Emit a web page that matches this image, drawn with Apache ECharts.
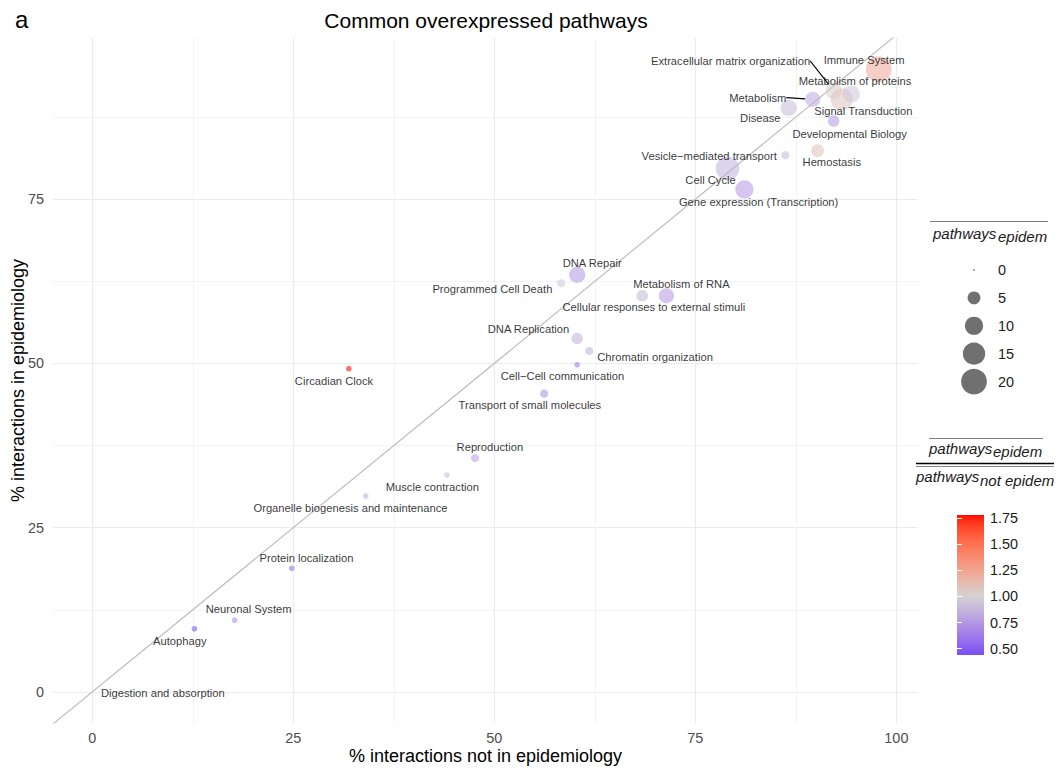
<!DOCTYPE html>
<html>
<head>
<meta charset="utf-8">
<title>Common overexpressed pathways</title>
<script src="https://cdn.jsdelivr.net/npm/echarts@6/dist/echarts.min.js"></script>
<style>
  html, body { margin: 0; padding: 0; background: #ffffff; }
  #chart { width: 1060px; height: 771px; }
</style>
</head>
<body>
<div id="chart"></div>
<script>
// ---- data -------------------------------------------------------------
const pathways = [
  "Immune System", "Extracellular matrix organization", "Metabolism of proteins",
  "Signal Transduction", "Metabolism", "Disease", "Developmental Biology",
  "Vesicle\u2212mediated transport", "Hemostasis", "Cell Cycle",
  "Gene expression (Transcription)", "DNA Repair", "Programmed Cell Death",
  "Metabolism of RNA", "Cellular responses to external stimuli", "DNA Replication",
  "Chromatin organization", "Cell\u2212Cell communication", "Transport of small molecules",
  "Circadian Clock", "Reproduction", "Muscle contraction",
  "Organelle biogenesis and maintenance", "Protein localization", "Neuronal System",
  "Autophagy", "Digestion and absorption"
];
// % interactions not in epidemiology
const pctNotEpidem = [97.8, 92.2, 93.2, 94.4, 89.6, 86.6, 92.2, 86.2, 90.2, 79.0,
  81.1, 60.3, 58.3, 71.4, 68.4, 60.3, 61.8, 60.3, 56.2, 31.9, 47.6, 44.1, 34.0,
  24.8, 17.7, 12.7, 0];
// % interactions in epidemiology
const pctEpidem = [94.8, 91.5, 90.2, 91.0, 90.2, 88.9, 86.9, 81.7, 82.4, 79.7,
  76.5, 63.5, 62.2, 60.3, 60.3, 53.8, 51.9, 49.8, 45.4, 49.2, 35.6, 33.0, 29.8,
  18.8, 10.9, 9.6, 0];
// number of epidemiology pathways (point size)
const nEpidem = [20, 8, 15, 9, 7, 8, 4, 2, 5, 17, 10, 8, 2, 7, 4, 4, 2, 1, 2, 1,
  2, 1, 1, 1, 1, 1, 0];
// pathways_epidem / pathways_not_epidem (point colour)
const ratio = [1.22, 1.02, 1.08, 0.95, 0.82, 0.90, 0.75, 0.88, 1.10, 0.85, 0.76,
  0.74, 0.95, 0.76, 0.87, 0.84, 0.86, 0.60, 0.70, 1.78, 0.78, 0.90, 0.86, 0.55,
  0.68, 0.44, 1.00];

const xTicks = [0, 25, 50, 75, 100];
const xMinor = [12.5, 37.5, 62.5, 87.5];
const yTicks = [0, 25, 50, 75];
const yMinor = [12.5, 37.5, 62.5, 87.5];
const sizeBreaks = [0, 5, 10, 15, 20];
const ratioBreaks = [0.5, 0.75, 1.0, 1.25, 1.5, 1.75];

// ---- label placement (pixel shift of each label from its point) -------
const labelShift = {
  "Immune System": [-14.6, -9.6],
  "Extracellular matrix organization": [-103.1, -30],
  "Metabolism of proteins": [13.3, -18.3],
  "Signal Transduction": [12, 16.7],
  "Metabolism": [-55, -1.7],
  "Disease": [-28.3, 10.3],
  "Developmental Biology": [16, 12.6],
  "Vesicle\u2212mediated transport": [-76.2, 1],
  "Hemostasis": [14.2, 11.6],
  "Cell Cycle": [-17, 11.7],
  "Gene expression (Transcription)": [14.2, 12.7],
  "DNA Repair": [15, -11.4],
  "Programmed Cell Death": [-68.7, 5.3],
  "Metabolism of RNA": [15, -11.7],
  "Cellular responses to external stimuli": [11.6, 11.6],
  "DNA Replication": [-48.7, -9.7],
  "Chromatin organization": [65.8, 5.6],
  "Cell\u2212Cell communication": [-14.7, 11.7],
  "Transport of small molecules": [-14.3, 11],
  "Circadian Clock": [-14.8, 12.4],
  "Reproduction": [14.8, -11],
  "Muscle contraction": [-14.6, 12],
  "Organelle biogenesis and maintenance": [-15.2, 12],
  "Protein localization": [14.7, -10.7],
  "Neuronal System": [14, -11],
  "Autophagy": [-14.7, 12],
  "Digestion and absorption": [70.5, 1]
};
const withLeader = ["Extracellular matrix organization", "Metabolism"];

// ---- styling helpers --------------------------------------------------
const FONT = "'Liberation Sans', Arial, Helvetica, sans-serif";
const POINT_ALPHA = 0.7;
const sizeOf = n => Math.max(1.6, 5.76 * Math.sqrt(n));

// diverging colour ramp (low - mid - high), interpolated in CIELAB
function srgbToLin(c) { c /= 255; return c <= 0.04045 ? c / 12.92 : Math.pow((c + 0.055) / 1.055, 2.4); }
function linToSrgb(c) {
  c = c <= 0.0031308 ? 12.92 * c : 1.055 * Math.pow(c, 1 / 2.4) - 0.055;
  return Math.round(Math.max(0, Math.min(1, c)) * 255);
}
function hexToLab(h) {
  const [r, g, b] = [1, 3, 5].map(i => srgbToLin(parseInt(h.slice(i, i + 2), 16)));
  const X = (0.4124564 * r + 0.3575761 * g + 0.1804375 * b) / 0.95047;
  const Y = (0.2126729 * r + 0.7151522 * g + 0.0721750 * b);
  const Z = (0.0193339 * r + 0.1191920 * g + 0.9503041 * b) / 1.08883;
  const f = t => t > 0.008856 ? Math.cbrt(t) : (7.787 * t + 16 / 116);
  const fx = f(X), fy = f(Y), fz = f(Z);
  return [116 * fy - 16, 500 * (fx - fy), 200 * (fy - fz)];
}
function labToRgb([L, a, b]) {
  const fy = (L + 16) / 116, fx = fy + a / 500, fz = fy - b / 200;
  const fi = t => t > 0.206893 ? t * t * t : (t - 16 / 116) / 7.787;
  const X = fi(fx) * 0.95047, Y = fi(fy), Z = fi(fz) * 1.08883;
  const r = 3.2404542 * X - 1.5371385 * Y - 0.4985314 * Z;
  const g = -0.9692660 * X + 1.8760108 * Y + 0.0415560 * Z;
  const bl = 0.0556434 * X - 0.2040259 * Y + 1.0572252 * Z;
  return [r, g, bl].map(linToSrgb);
}
const LOW = hexToLab('#0000FF'), MID = hexToLab('#D3D3D3'), HIGH = hexToLab('#FF0000');
const rMin = Math.min(...ratio), rMax = Math.max(...ratio), rMid = 1;
const rSpread = Math.max(Math.abs(rMin - rMid), Math.abs(rMax - rMid));
function ratioRgb(v) {
  const t = (v - rMid) / (2 * rSpread) + 0.5;
  const mix = (A, B, s) => A.map((c, i) => c + (B[i] - c) * s);
  return t < 0.5 ? labToRgb(mix(LOW, MID, t / 0.5)) : labToRgb(mix(MID, HIGH, (t - 0.5) / 0.5));
}
const NSTEP = 80;
const rampValues = [];
for (let k = 0; k <= NSTEP; k++) rampValues.push(rMin + (rMax - rMin) * k / NSTEP);
// translucent colours for the points, opaque ones for the colour bar
const pointRamp = rampValues.map(v => 'rgba(' + ratioRgb(v).join(',') + ',' + POINT_ALPHA + ')');
const barStops = rampValues.slice().reverse().map((v, k) => ({
  offset: k / NSTEP, color: 'rgb(' + ratioRgb(v).join(',') + ')'
}));

// axis extent: data range padded by 5% on each side
const xSpan = Math.max(...pctNotEpidem) - Math.min(...pctNotEpidem);
const ySpan = Math.max(...pctEpidem) - Math.min(...pctEpidem);
const xMin = Math.min(...pctNotEpidem) - 0.05 * xSpan, xMax = Math.max(...pctNotEpidem) + 0.05 * xSpan;
const yMin = Math.min(...pctEpidem) - 0.05 * ySpan, yMax = Math.max(...pctEpidem) + 0.05 * ySpan;

const chart = echarts.init(document.getElementById('chart'), null, { renderer: 'svg' });

const points = pathways.map((p, i) => {
  const item = { name: p, value: [pctNotEpidem[i], pctEpidem[i], nEpidem[i], ratio[i]] };
  if (withLeader.includes(p)) item.labelLine = { show: true, lineStyle: { color: '#000', width: 1.1 } };
  return item;
});

const hiddenAxis = {
  axisLine: { show: false }, axisTick: { show: false }, axisLabel: { show: false }, splitLine: { show: false }
};

const option = {
  animation: false,
  backgroundColor: '#ffffff',
  textStyle: { fontFamily: FONT },
  grid: [
    { left: 53, top: 38, right: 142, bottom: 48, outerBoundsMode: 'none' },
    { left: 964, top: 256, width: 20, height: 139.5, outerBoundsMode: 'none' },
    { left: 957, top: 515, width: 27, height: 140, show: true, borderWidth: 0,
      backgroundColor: new echarts.graphic.LinearGradient(0, 0, 0, 1, barStops), outerBoundsMode: 'none' }
  ],
  xAxis: [
    { type: 'value', gridIndex: 0, min: xMin, max: xMax,
      name: '% interactions not in epidemiology', nameLocation: 'middle', nameGap: 24,
      nameMoveOverlap: false,
      nameTextStyle: { fontSize: 18, color: '#000', fontFamily: FONT },
      axisLine: { show: false },
      axisTick: { show: false, customValues: xTicks },
      axisLabel: { customValues: xTicks, color: '#4D4D4D', fontSize: 14.4, margin: 8, fontFamily: FONT },
      splitLine: { show: true, lineStyle: { color: '#EBEBEB', width: 1.1 } } },
    { type: 'value', gridIndex: 0, min: xMin, max: xMax,
      axisLine: { show: false }, axisLabel: { show: false },
      axisTick: { show: false, customValues: xMinor },
      splitLine: { show: true, lineStyle: { color: '#F3F3F3', width: 1 } } },
    Object.assign({ type: 'value', gridIndex: 1, min: -1, max: 1 }, hiddenAxis),
    Object.assign({ type: 'value', gridIndex: 2, min: 0, max: 1 }, hiddenAxis)
  ],
  yAxis: [
    { type: 'value', gridIndex: 0, min: yMin, max: yMax,
      name: '% interactions in epidemiology', nameLocation: 'middle', nameGap: 26,
      nameMoveOverlap: false,
      nameTextStyle: { fontSize: 18, color: '#000', fontFamily: FONT },
      axisLine: { show: false },
      axisTick: { show: false, customValues: yTicks },
      axisLabel: { customValues: yTicks, color: '#4D4D4D', fontSize: 14.4, margin: 9, fontFamily: FONT },
      splitLine: { show: true, lineStyle: { color: '#EBEBEB', width: 1.1 } } },
    { type: 'value', gridIndex: 0, min: yMin, max: yMax,
      axisLine: { show: false }, axisLabel: { show: false },
      axisTick: { show: false, customValues: yMinor },
      splitLine: { show: true, lineStyle: { color: '#F3F3F3', width: 1 } } },
    { type: 'category', gridIndex: 1, inverse: true, position: 'right',
      data: sizeBreaks.map(String),
      axisLine: { show: false }, axisTick: { show: false }, splitLine: { show: false },
      axisLabel: { color: '#1A1A1A', fontSize: 14.4, margin: 14, fontFamily: FONT } },
    { type: 'value', gridIndex: 2, min: rMin, max: rMax, position: 'right', z: 10,
      axisLine: { show: false }, splitLine: { show: false },
      axisTick: { show: true, inside: true, length: 5, customValues: ratioBreaks,
        lineStyle: { color: '#ffffff', width: 1 } },
      axisLabel: { customValues: ratioBreaks, formatter: v => v.toFixed(2),
        color: '#1A1A1A', fontSize: 14.4, margin: 6, fontFamily: FONT } },
    { type: 'value', gridIndex: 2, min: rMin, max: rMax, position: 'left', z: 10,
      axisLine: { show: false }, splitLine: { show: false }, axisLabel: { show: false },
      axisTick: { show: true, inside: true, length: 5, customValues: ratioBreaks,
        lineStyle: { color: '#ffffff', width: 1 } } }
  ],
  visualMap: {
    show: false, type: 'continuous', seriesIndex: 1, dimension: 3,
    min: rMin, max: rMax, inRange: { color: pointRamp }
  },
  series: [
    { // identity line y = x
      type: 'line', xAxisIndex: 0, yAxisIndex: 0, silent: true, clip: true,
      data: [[-10, -10], [110, 110]], symbol: 'none', z: 1,
      lineStyle: { color: '#BEBEBE', width: 1.2 }
    },
    { // pathways
      type: 'scatter', xAxisIndex: 0, yAxisIndex: 0, z: 3,
      data: points,
      symbolSize: v => sizeOf(v[2]),
      label: { show: true, position: 'inside', formatter: '{b}', color: '#000',
        textBorderWidth: 0, textBorderColor: 'transparent',
        fontSize: 11.2, fontFamily: FONT },
      labelLayout: params => {
        const s = labelShift[pathways[params.dataIndex]] || [0, 0];
        return { dx: s[0], dy: s[1] };
      },
      emphasis: { disabled: true }
    },
    { // size legend keys
      type: 'scatter', xAxisIndex: 2, yAxisIndex: 2, silent: true,
      data: sizeBreaks.map((v, i) => [0, i, v]),
      symbolSize: v => sizeOf(v[2]),
      itemStyle: { color: 'rgba(0,0,0,' + POINT_ALPHA + ')' }
    }
  ],
  graphic: [
    { type: 'text', x: 15, y: 19, style: { text: 'a', fontSize: 24, fontFamily: FONT, fill: '#000', verticalAlign: 'middle' } },
    { type: 'text', x: 486, y: 20, style: { text: 'Common overexpressed pathways', fontSize: 21, fontFamily: FONT, fill: '#000', align: 'center', verticalAlign: 'middle' } },
    // size legend title
    { type: 'line', shape: { x1: 930, y1: 221.5, x2: 1048, y2: 221.5 }, style: { stroke: '#7F7F7F', lineWidth: 1 } },
    { type: 'text', x: 933, y: 233, style: { text: 'pathways', fontSize: 15, fontStyle: 'italic', fontFamily: FONT, fill: '#1A1A1A', verticalAlign: 'middle' } },
    { type: 'text', x: 998, y: 236.5, style: { text: 'epidem', fontSize: 15, fontStyle: 'italic', fontFamily: FONT, fill: '#1A1A1A', verticalAlign: 'middle' } },
    // colour legend title (fraction)
    { type: 'line', shape: { x1: 929, y1: 438.5, x2: 1043, y2: 438.5 }, style: { stroke: '#7F7F7F', lineWidth: 1 } },
    { type: 'text', x: 929, y: 448, style: { text: 'pathways', fontSize: 15, fontStyle: 'italic', fontFamily: FONT, fill: '#1A1A1A', verticalAlign: 'middle' } },
    { type: 'text', x: 993, y: 451.5, style: { text: 'epidem', fontSize: 15, fontStyle: 'italic', fontFamily: FONT, fill: '#1A1A1A', verticalAlign: 'middle' } },
    { type: 'line', shape: { x1: 916, y1: 463.5, x2: 1054, y2: 463.5 }, style: { stroke: '#000', lineWidth: 1.6 } },
    { type: 'line', shape: { x1: 916, y1: 466.5, x2: 1054, y2: 466.5 }, style: { stroke: '#8A8A8A', lineWidth: 1 } },
    { type: 'text', x: 916, y: 476.5, style: { text: 'pathways', fontSize: 15, fontStyle: 'italic', fontFamily: FONT, fill: '#1A1A1A', verticalAlign: 'middle' } },
    { type: 'text', x: 980, y: 480, style: { text: 'not epidem', fontSize: 15, fontStyle: 'italic', fontFamily: FONT, fill: '#1A1A1A', verticalAlign: 'middle' } }
  ]
};

chart.setOption(option);
</script>
</body>
</html>
